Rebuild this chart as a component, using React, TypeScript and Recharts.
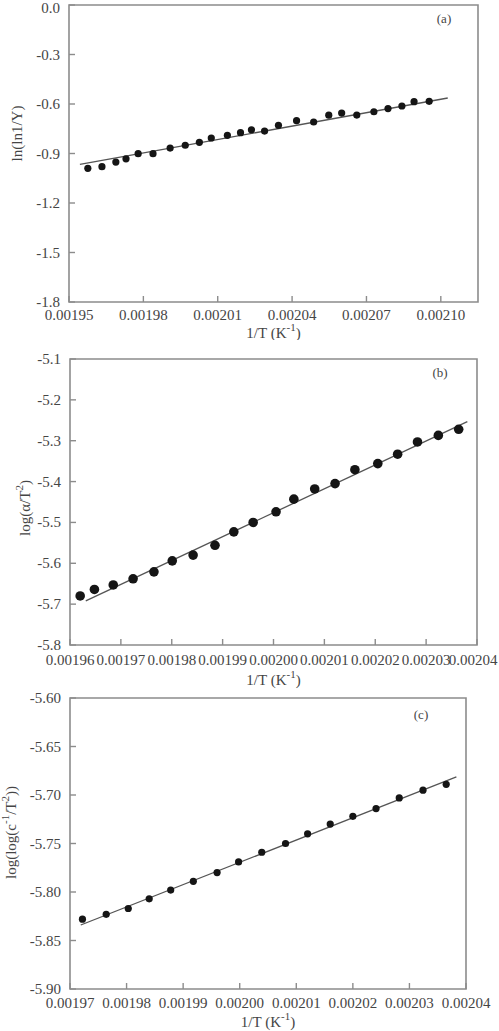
import React from 'react';
import { ComposedChart, Scatter, XAxis, YAxis, ReferenceLine, ReferenceArea } from 'recharts';

// ---- panel (a): ln(ln1/Y) vs 1/T ----
const aInvT = [
  0.0019576, 0.0019633, 0.0019689, 0.001973, 0.0019779, 0.0019839, 0.0019908, 0.0019969,
  0.0020026, 0.0020074, 0.0020139, 0.0020192, 0.0020236, 0.0020289, 0.0020345, 0.0020418,
  0.0020487, 0.0020548, 0.00206, 0.0020661, 0.002073, 0.0020787, 0.0020843, 0.0020892, 0.0020953,
];
const aVal = [
  -0.99, -0.98, -0.952, -0.932, -0.901, -0.901, -0.867, -0.85, -0.832, -0.806, -0.79, -0.774,
  -0.756, -0.764, -0.729, -0.701, -0.709, -0.668, -0.655, -0.667, -0.647, -0.628, -0.612, -0.586, -0.584,
];
const aFitX = [0.0019544, 0.0021028];
const aFitY = [-0.966, -0.5636];
const aTicksX = [0.00195, 0.00198, 0.00201, 0.00204, 0.00207, 0.0021];
const aTicksY = [-1.8, -1.5, -1.2, -0.9, -0.6, -0.3, 0];

// ---- panel (b): log(alpha/T^2) vs 1/T ----
const bInvT = [
  0.001962, 0.0019648, 0.0019685, 0.0019724, 0.0019765, 0.0019801, 0.0019842, 0.0019885,
  0.0019922, 0.001996, 0.0020005, 0.002004, 0.0020081, 0.0020121, 0.002016, 0.0020205,
  0.0020244, 0.0020283, 0.0020324, 0.0020364,
];
const bVal = [
  -5.68, -5.664, -5.653, -5.638, -5.621, -5.594, -5.58, -5.556, -5.523, -5.5, -5.474, -5.443,
  -5.418, -5.405, -5.371, -5.356, -5.333, -5.303, -5.287, -5.272,
];
const bFitX = [0.0019631, 0.0020381];
const bFitY = [-5.692, -5.2534];
const bTicksX = [0.00196, 0.00197, 0.00198, 0.00199, 0.002, 0.00201, 0.00202, 0.00203, 0.00204];
const bTicksY = [-5.8, -5.7, -5.6, -5.5, -5.4, -5.3, -5.2, -5.1];

// ---- panel (c): log(log(c^-1/T^2)) vs 1/T ----
const cInvT = [
  0.0019722, 0.0019764, 0.0019803, 0.001984, 0.0019878, 0.0019918, 0.001996, 0.0019998,
  0.0020039, 0.0020081, 0.002012, 0.002016, 0.00202, 0.0020241, 0.0020282, 0.0020324, 0.0020365,
];
const cVal = [
  -5.828, -5.823, -5.817, -5.807, -5.798, -5.789, -5.78, -5.769, -5.759, -5.75, -5.74, -5.73,
  -5.722, -5.714, -5.703, -5.695, -5.689,
];
const cFitX = [0.0019719, 0.0020383];
const cFitY = [-5.834, -5.6814];
const cTicksX = [0.00197, 0.00198, 0.00199, 0.002, 0.00201, 0.00202, 0.00203, 0.00204];
const cTicksY = [-5.9, -5.85, -5.8, -5.75, -5.7, -5.65, -5.6];

const AXIS = '#8c8c8c';
const TEXT = '#454545';
const FONT = '"Liberation Serif", "DejaVu Serif", serif';
const FS = 15;

const pts = (xs: number[], ys: number[]) => xs.map((x, i) => ({ x, y: ys[i] }));

// inward tick mark, label below the axis (last label nudged so it stays on the page)
function BottomTick(props: any) {
  const { x, y, payload, digits, dy, index, visibleTicksCount, lastShift } = props;
  const isLast = index === visibleTicksCount - 1;
  return (
    <g>
      <line x1={x} y1={y} x2={x} y2={y - 6} stroke={AXIS} strokeWidth={1.4} />
      <text
        x={isLast ? x - lastShift : x}
        y={y + dy}
        textAnchor="middle"
        dominantBaseline="central"
        fill={TEXT}
        fontSize={FS}
        fontFamily={FONT}
      >
        {Number(payload.value).toFixed(digits)}
      </text>
    </g>
  );
}

// inward tick mark, label left of the axis
function LeftTick(props: any) {
  const { x, y, payload, digits } = props;
  return (
    <g>
      <line x1={x} y1={y} x2={x + 6} y2={y} stroke={AXIS} strokeWidth={1.4} />
      <text x={x - 9} y={Math.max(y, 8)} textAnchor="end" dominantBaseline="central" fill={TEXT} fontSize={FS} fontFamily={FONT}>
        {Number(payload.value).toFixed(digits)}
      </text>
    </g>
  );
}

interface PanelProps {
  top: number;
  height: number;
  plotTop: number;
  plotLeft: number;
  plotRight: number;
  plotBottom: number;
  xs: number[];
  ys: number[];
  fitX: number[];
  fitY: number[];
  ticksX: number[];
  ticksY: number[];
  xDomain: [number, number];
  yDomain: [number, number];
  yDigits: number;
  tickDy: number;
  lastShift: number;
  xLabelDy: number;
  yLabelX: number;
  yLabelDy: number;
  yLabel: React.ReactNode;
  tag: string;
  tagDx: number;
  tagDy: number;
  r: number;
}

function Panel(p: PanelProps) {
  const data = pts(p.xs, p.ys);
  return (
    <div style={{ position: 'absolute', left: 0, top: p.top }}>
      <ComposedChart width={499} height={p.height} margin={{ top: p.plotTop, right: p.plotRight, bottom: 0, left: 0 }}>
        <XAxis
          type="number"
          dataKey="x"
          domain={p.xDomain}
          ticks={p.ticksX}
          interval={0}
          allowDataOverflow
          height={p.plotBottom}
          axisLine={false}
          tickLine={false}
          tickSize={0}
          tickMargin={0}
          tick={(t: any) => <BottomTick {...t} digits={5} dy={p.tickDy} lastShift={p.lastShift} />}
          label={(l: any) => {
            const vb = l.viewBox;
            return (
              <text
                x={vb.x + vb.width / 2}
                y={vb.y + p.xLabelDy}
                textAnchor="middle"
                dominantBaseline="central"
                fill={TEXT}
                fontSize={FS}
                fontFamily={FONT}
              >
                1/T (K
                <tspan dy={-6} fontSize={11}>-1</tspan>
                <tspan dy={6}>)</tspan>
              </text>
            );
          }}
        />
        <YAxis
          type="number"
          dataKey="y"
          domain={p.yDomain}
          ticks={p.ticksY}
          interval={0}
          allowDataOverflow
          width={p.plotLeft}
          axisLine={false}
          tickLine={false}
          tickSize={0}
          tickMargin={0}
          tick={(t: any) => <LeftTick {...t} digits={p.yDigits} />}
          label={(l: any) => {
            const vb = l.viewBox;
            const cx = p.yLabelX;
            const cy = vb.y + vb.height / 2 + p.yLabelDy;
            return (
              <text
                x={cx}
                y={cy}
                transform={`rotate(-90 ${cx} ${cy})`}
                textAnchor="middle"
                dominantBaseline="central"
                fill={TEXT}
                fontSize={FS}
                fontFamily={FONT}
              >
                {p.yLabel}
              </text>
            );
          }}
        />
        <ReferenceArea
          x1={p.xDomain[0]}
          x2={p.xDomain[1]}
          y1={p.yDomain[0]}
          y2={p.yDomain[1]}
          fill="none"
          fillOpacity={0}
          stroke={AXIS}
          strokeWidth={1.6}
          label={(l: any) => {
            const vb = l.viewBox;
            return (
              <text
                x={vb.x + vb.width - p.tagDx}
                y={vb.y + p.tagDy}
                textAnchor="middle"
                dominantBaseline="central"
                fill={TEXT}
                fontSize={13}
                fontFamily={FONT}
              >
                {p.tag}
              </text>
            );
          }}
        />
        <ReferenceLine
          segment={[
            { x: p.fitX[0], y: p.fitY[0] },
            { x: p.fitX[1], y: p.fitY[1] },
          ]}
          stroke="#555"
          strokeWidth={1.3}
        />
        <Scatter
          data={data}
          fill="#151515"
          isAnimationActive={false}
          shape={(s: any) => <circle cx={s.cx} cy={s.cy} r={p.r} fill="#151515" />}
        />
      </ComposedChart>
    </div>
  );
}

export default function App() {
  return (
    <div style={{ position: 'absolute', left: 0, top: 0, width: 499, height: 1031, background: '#fff', overflow: 'hidden' }}>
      <Panel
        top={0}
        height={340}
        plotTop={5}
        plotLeft={69}
        plotRight={21}
        plotBottom={38}
        xs={aInvT}
        ys={aVal}
        fitX={aFitX}
        fitY={aFitY}
        ticksX={aTicksX}
        ticksY={aTicksY}
        xDomain={[0.00195, 0.002115]}
        yDomain={[-1.8, 0]}
        yDigits={1}
        tickDy={13}
        lastShift={0}
        xLabelDy={31}
        yLabelX={17}
        yLabelDy={-20}
        yLabel="ln(ln1/Y)"
        tag="(a)"
        tagDx={34}
        tagDy={13}
        r={3.6}
      />
      <Panel
        top={340}
        height={350}
        plotTop={19}
        plotLeft={70}
        plotRight={22}
        plotBottom={45}
        xs={bInvT}
        ys={bVal}
        fitX={bFitX}
        fitY={bFitY}
        ticksX={bTicksX}
        ticksY={bTicksY}
        xDomain={[0.00196, 0.00204]}
        yDomain={[-5.8, -5.1]}
        yDigits={1}
        tickDy={15}
        lastShift={4}
        xLabelDy={35}
        yLabelX={25}
        yLabelDy={6}
        yLabel={
          <>
            log(α/T<tspan dy={-6} fontSize={11}>2</tspan>
            <tspan dy={6}>)</tspan>
          </>
        }
        tag="(b)"
        tagDx={37}
        tagDy={13}
        r={4.8}
      />
      <Panel
        top={690}
        height={341}
        plotTop={8}
        plotLeft={70}
        plotRight={33}
        plotBottom={42}
        xs={cInvT}
        ys={cVal}
        fitX={cFitX}
        fitY={cFitY}
        ticksX={cTicksX}
        ticksY={cTicksY}
        xDomain={[0.00197, 0.00204]}
        yDomain={[-5.9, -5.6]}
        yDigits={2}
        tickDy={14}
        lastShift={0}
        xLabelDy={33}
        yLabelX={11}
        yLabelDy={-11}
        yLabel={
          <>
            log(log(c<tspan dy={-6} fontSize={11}>-1</tspan>
            <tspan dy={6}>/T</tspan>
            <tspan dy={-6} fontSize={11}>2</tspan>
            <tspan dy={6}>))</tspan>
          </>
        }
        tag="(c)"
        tagDx={45}
        tagDy={16}
        r={3.6}
      />
    </div>
  );
}
